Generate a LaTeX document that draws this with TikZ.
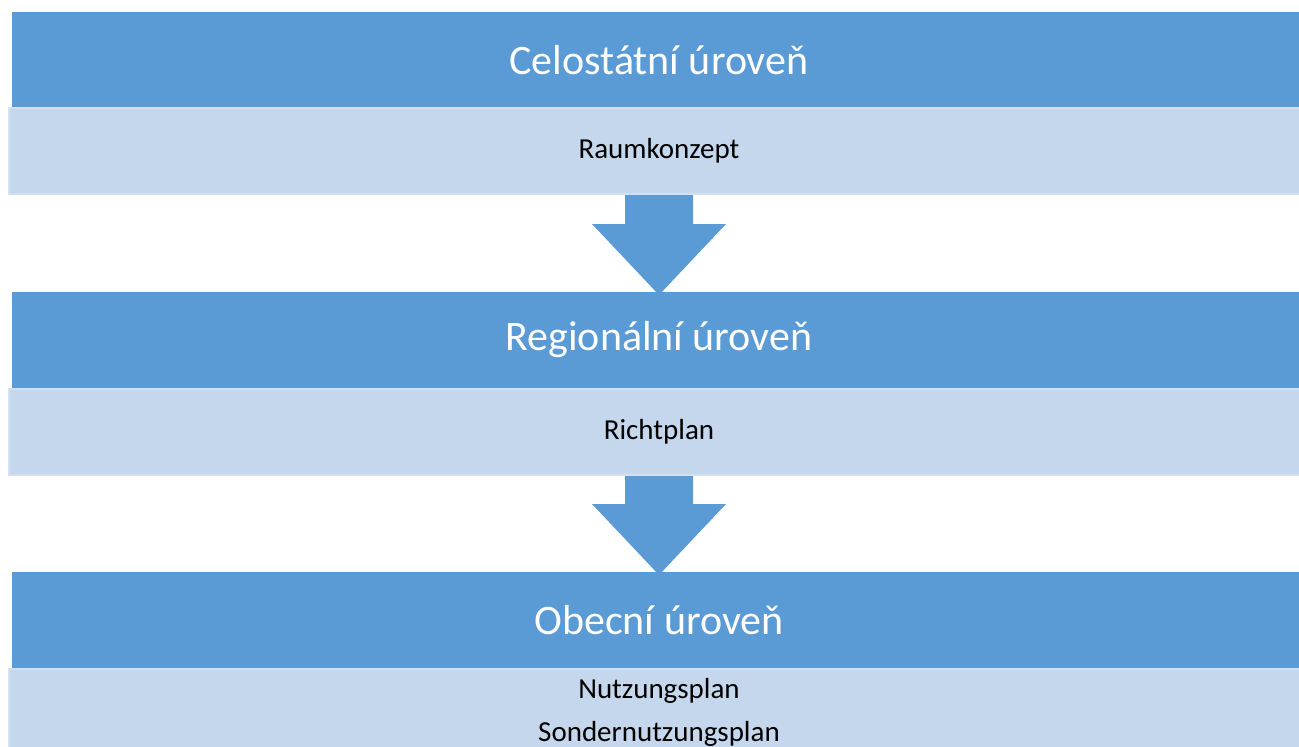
\documentclass[tikz,border=0pt]{standalone}
\usepackage{fontspec}
\setmainfont{Carlito}
\usetikzlibrary{positioning,calc}

\definecolor{lvlblue}{HTML}{5B9BD5}
\definecolor{lvllight}{HTML}{C5D7EC}
\definecolor{lvledge}{HTML}{D3E0F0}

\tikzset{
  levelhead/.style={fill=lvlblue, text=white, minimum width=1294pt, minimum height=96pt,
    inner sep=0pt, outer sep=0pt, font=\fontsize{42}{50}\selectfont},
  levelbody/.style={fill=lvllight, draw=lvledge, line width=2.5pt, minimum width=1300pt,
    minimum height=86pt, inner sep=0pt, outer sep=0pt, align=center,
    font=\fontsize{29}{43}\selectfont},
}

% block arrow from the bottom of one box down to the top of the next
\newcommand{\levelarrow}[2]{%
  \fill[lvlblue] ([xshift=-34pt,yshift=-1pt]#1.south) -- ([xshift=34pt,yshift=-1pt]#1.south)
    -- ($([xshift=34pt]#2.north)+(0,-68)$) -- ($([xshift=67pt]#2.north)+(0,-68)$)
    -- ([yshift=-3pt]#2.north) -- ($([xshift=-67pt]#2.north)+(0,-68)$)
    -- ($([xshift=-34pt]#2.north)+(0,-68)$) -- cycle;
}

\begin{document}
\begin{tikzpicture}[x=1pt, y=-1pt]
  \useasboundingbox (0,0) rectangle (1299,747);

  % ---- national level ----
  \node[levelhead] (nat) at (659,60) {Celostátní úroveň};
  \node[levelbody, below=0pt of nat] (raum) {Raumkonzept};

  % ---- regional level ----
  \node[levelhead, below=98pt of raum] (reg) {Regionální úroveň};
  \node[levelbody, below=1pt of reg] (richt) {Richtplan};

  % ---- municipal level ----
  \node[levelhead, below=97pt of richt] (obec) {Obecní úroveň};
  \node[levelbody, below=1pt of obec] (nutz) {Nutzungsplan\\Sondernutzungsplan};

  \levelarrow{raum}{reg}
  \levelarrow{richt}{obec}
\end{tikzpicture}
\end{document}
